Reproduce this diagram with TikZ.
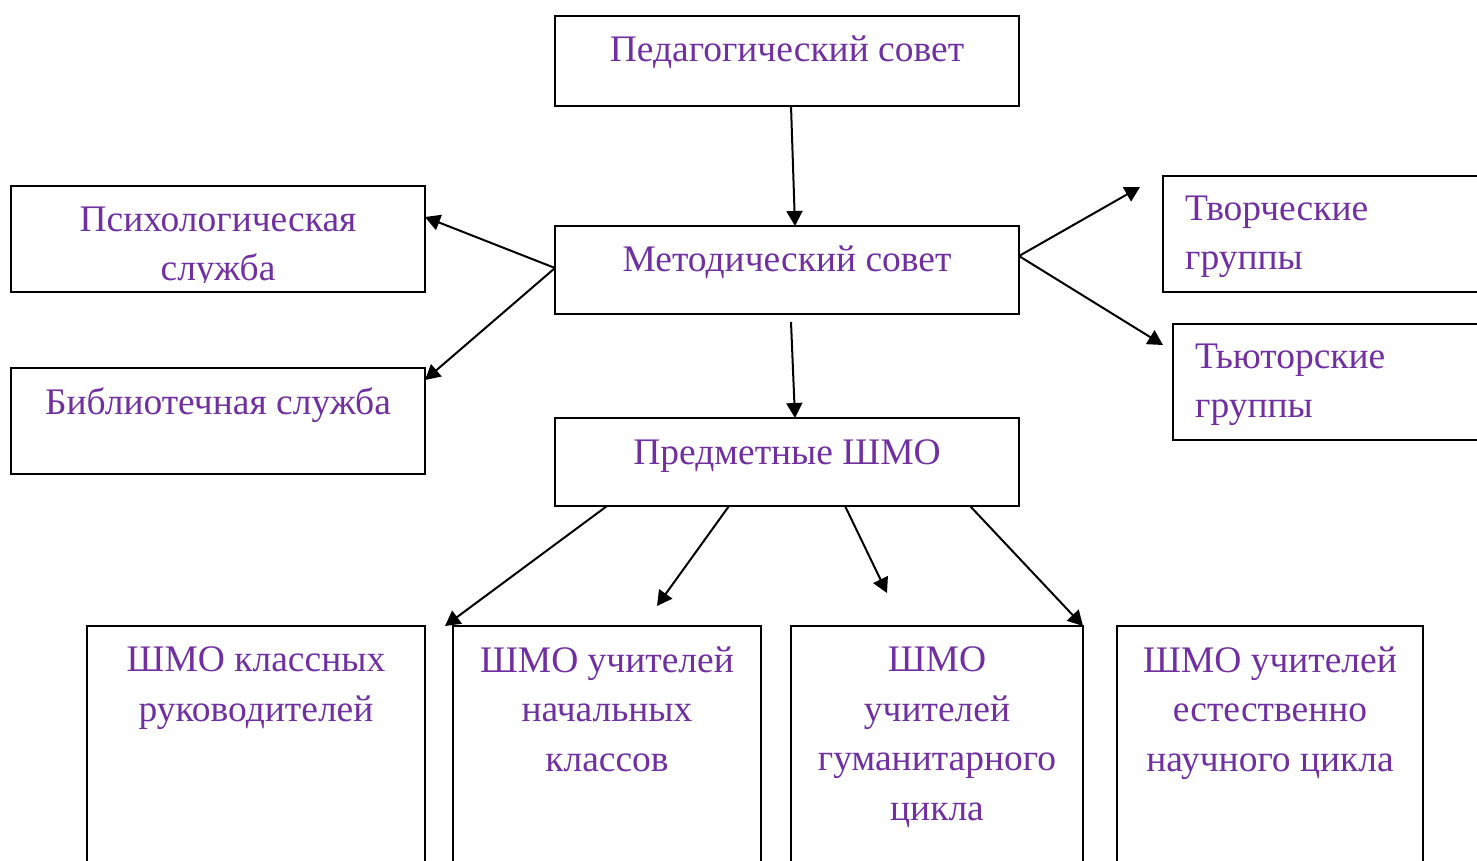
\documentclass[tikz,border=0pt]{standalone}
\usepackage{fontspec}
\setmainfont{Liberation Serif}
\usepackage{xcolor}
\usetikzlibrary{arrows.meta}
\definecolor{txtpurple}{HTML}{7030A0}

\tikzset{
  box/.style={draw, line width=2pt, inner sep=0pt, outer sep=0pt, anchor=north west},
  lbl/.style={text=txtpurple, inner sep=0pt, font=\fontsize{37.5}{49}\selectfont},
  lblsm/.style={text=txtpurple, inner sep=0pt, align=center, anchor=base,
    font=\fontsize{37.5}{49.5}\selectfont},
  arr/.style={-{Triangle[length=15pt,width=16pt]}, line width=2pt}
}

\begin{document}
\begin{tikzpicture}[x=1pt,y=-1pt]
  \useasboundingbox (0,0) rectangle (1477,860);
  \clip (0,0) rectangle (1477,860);

  % boxes
  \node[box, minimum width=464pt, minimum height=90pt] (ped) at (555,16) {};
  \node[box, minimum width=464pt, minimum height=88pt] (met) at (555,226) {};
  \node[box, minimum width=464pt, minimum height=88pt] (pred) at (555,418) {};
  \node[box, minimum width=414pt, minimum height=106pt] (psy) at (11,186) {};
  \node[box, minimum width=414pt, minimum height=106pt] (bib) at (11,368) {};
  \node[box, minimum width=330pt, minimum height=116pt] (tvo) at (1163,176) {};
  \node[box, minimum width=320pt, minimum height=116pt] (tut) at (1173,324) {};
  \node[box, minimum width=338pt, minimum height=260pt] (kl) at (87,626) {};
  \node[box, minimum width=308pt, minimum height=260pt] (nach) at (453,626) {};
  \node[box, minimum width=292pt, minimum height=260pt] (gum) at (791,626) {};
  \node[box, minimum width=306pt, minimum height=260pt] (est) at (1117,626) {};

  % texts (base = last line)
  \node[lbl, anchor=base] (tped) at (787,61) {Педагогический совет};
  \node[lbl, anchor=base] (tmet) at (787,271) {Методический совет};
  \node[lbl, anchor=base] (tpred) at (787,464) {Предметные ШМО};
  \begin{scope}
    \clip (0,0) rectangle (1477,282);
    \node[lbl, anchor=base, align=center] (tpsy) at (218,280) {Психологическая\\служба};
  \end{scope}
  \node[lbl, anchor=base] (tbib) at (218,414) {Библиотечная служба};
  \node[lbl, anchor=base west, align=left] (ttvo) at (1185,269) {Творческие\\группы};
  \node[lbl, anchor=base west, align=left] (ttut) at (1195,417) {Тьюторские\\группы};
  \node[lblsm] (tkl) at (256,721) {ШМО классных\\руководителей};
  \node[lblsm] (tnach) at (607,771) {ШМО учителей\\начальных\\классов};
  \node[lblsm] (tgum) at (937,820) {ШМО\\учителей\\гуманитарного\\цикла};
  \node[lblsm] (test) at (1270,771) {ШМО учителей\\естественно\\научного цикла};

  % arrows
  \draw[arr] ([xshift=4pt]ped.south) -- ([xshift=8pt]met.north);
  \draw[arr] ([yshift=2pt]met.west) -- ([yshift=-31pt]psy.north east);
  \draw[arr] ([yshift=2pt]met.west) -- ([yshift=-12pt]bib.north east);
  \draw[arr] ([yshift=14pt]met.east) -- ([xshift=-23pt,yshift=-11pt]tvo.north west);
  \draw[arr] ([yshift=14pt]met.east) -- ([xshift=-10pt,yshift=-21pt]tut.north west);
  \draw[arr] ([xshift=4pt,yshift=-8pt]met.south) -- ([xshift=8pt]pred.north);
  \draw[arr] ([xshift=52pt]pred.south west) -- ([xshift=20pt]kl.north east);
  \draw[arr] ([xshift=174pt]pred.south west) -- ([xshift=50pt,yshift=20pt]nach.north);
  \draw[arr] ([xshift=290pt]pred.south west) -- ([xshift=-50pt,yshift=33pt]gum.north);
  \draw[arr] ([xshift=415pt]pred.south west) -- (gum.north east);
\end{tikzpicture}
\end{document}
